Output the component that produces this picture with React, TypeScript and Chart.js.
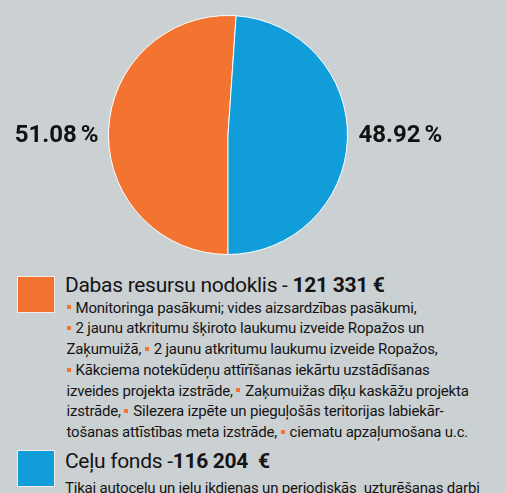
import React, { useEffect, useRef } from "react";
import { Chart, registerables } from "chart.js";

Chart.register(...registerables);

const categories = ["Dabas resursu nodoklis", "Ceļu fonds"];
const shares = [51.08, 48.92];
const shareNumbers = ["51.08", "48.92"];
const amounts = ["121 331 €", "116 204  €"];
const colors = ["#f37330", "#109dd9"];
const orangeLines = [
  ["▪", "Monitoringa pasākumi; vides aizsardzības pasākumi,"],
  ["▪", "2 jaunu atkritumu šķiroto laukumu izveide Ropažos un"],
  ["Zaķumuižā, ", "▪", "2 jaunu atkritumu laukumu izveide Ropažos,"],
  ["▪", "Kākciema notekūdeņu attīrīšanas iekārtu uzstādīšanas"],
  ["izveides projekta izstrāde, ", "▪", "Zaķumuižas dīķu kaskāžu projekta"],
  ["izstrāde, ", "▪", "Silezera izpēte un pieguļošās teritorijas labiekār-"],
  ["tošanas attīstības meta izstrāde, ", "▪", "ciematu apzaļumošana u.c."],
];
const blueLines = ["Tikai autoceļu un ielu ikdienas un periodiskās  uzturēšanas darbi"];

const BG = "#cbd0d3";
const FONT = "Roboto, 'Noto Sans', sans-serif";

const labelPlugin = {
  id: "sideLabels",
  afterDatasetsDraw(chart: any) {
    const ctx = chart.ctx;
    const meta = chart.getDatasetMeta(0);
    ctx.save();
    ctx.font = `bold 24px ${FONT}`;
    ctx.fillStyle = "#111";
    ctx.textBaseline = "middle";
    ctx.textAlign = "left";
    meta.data.forEach((arc: any, i: number) => {
      const { x, y, startAngle, endAngle, outerRadius } = arc.getProps(
        ["x", "y", "startAngle", "endAngle", "outerRadius"],
        true
      );
      const mid = (startAngle + endAngle) / 2;
      const right = Math.cos(mid) > 0;
      const num = shareNumbers[i];
      const gap = 4;
      const w = ctx.measureText(num).width + gap + ctx.measureText("%").width;
      const lx = right ? x + outerRadius + 11 : x - outerRadius - 10 - w;
      ctx.fillText(num, lx, y + 1);
      ctx.fillText("%", lx + ctx.measureText(num).width + gap, y + 1);
    });
    ctx.restore();
  },
};

function Bullet() {
  return (
    <span
      style={{
        display: "inline-block",
        width: "4px",
        height: "4px",
        background: "#f37330",
        verticalAlign: "3.3px",
        marginRight: "5px",
      }}
    />
  );
}

export default function App() {
  const ref = useRef<HTMLCanvasElement>(null);
  useEffect(() => {
    document.body.style.margin = "0";
    const chart = new Chart(ref.current!, {
      type: "pie",
      data: {
        labels: categories,
        datasets: [
          {
            data: shares,
            backgroundColor: colors,
            borderColor: "#ffffff",
            borderWidth: 1,
          },
        ],
      },
      options: {
        animation: false,
        responsive: false,
        rotation: 180,
        layout: { padding: 0 },
        plugins: { legend: { display: false }, tooltip: { enabled: false } },
      },
      plugins: [labelPlugin],
    });
    return () => chart.destroy();
  }, []);

  const square = (c: string) => ({
    position: "absolute" as const,
    left: "17px",
    width: "36px",
    height: "35px",
    background: c,
    border: "1px solid #f4ece6",
  });

  const body = {
    position: "absolute" as const,
    fontSize: "15px",
    lineHeight: "20.7px",
    whiteSpace: "pre" as const,
    letterSpacing: "-0.2px",
  };

  const title = {
    position: "absolute" as const,
    left: "65px",
    fontSize: "21px",
    lineHeight: "24px",
    whiteSpace: "pre" as const,
    letterSpacing: "-0.3px",
  };

  return (
    <div style={{ position: "fixed", left: 0, top: 0, width: "505px", height: "493px", background: BG, overflow: "hidden", fontFamily: FONT, color: "#141414" }}>
      <canvas ref={ref} width={456} height={240} style={{ position: "absolute", left: 0, top: 15, width: "456px", height: "240px" }} />
      <div style={{ ...square(colors[0]), top: "276px" }} />
      <div style={{ ...title, top: "273px" }}>
        {categories[0]} - <b>{amounts[0]}</b>
      </div>
      <div style={{ ...body, left: "66.5px", top: "297.7px" }}>
        {orangeLines.map((ln, i) => (
          <div key={i}>
            {ln.map((p, j) => (p === "▪" ? <Bullet key={j} /> : <span key={j}>{p}</span>))}
          </div>
        ))}
      </div>
      <div style={{ ...square(colors[1]), top: "450px" }} />
      <div style={{ ...title, top: "448.7px" }}>
        {categories[1]} -<b>{amounts[1]}</b>
      </div>
      <div style={{ ...body, left: "65px", top: "477.5px" }}>{blueLines[0]}</div>
    </div>
  );
}
